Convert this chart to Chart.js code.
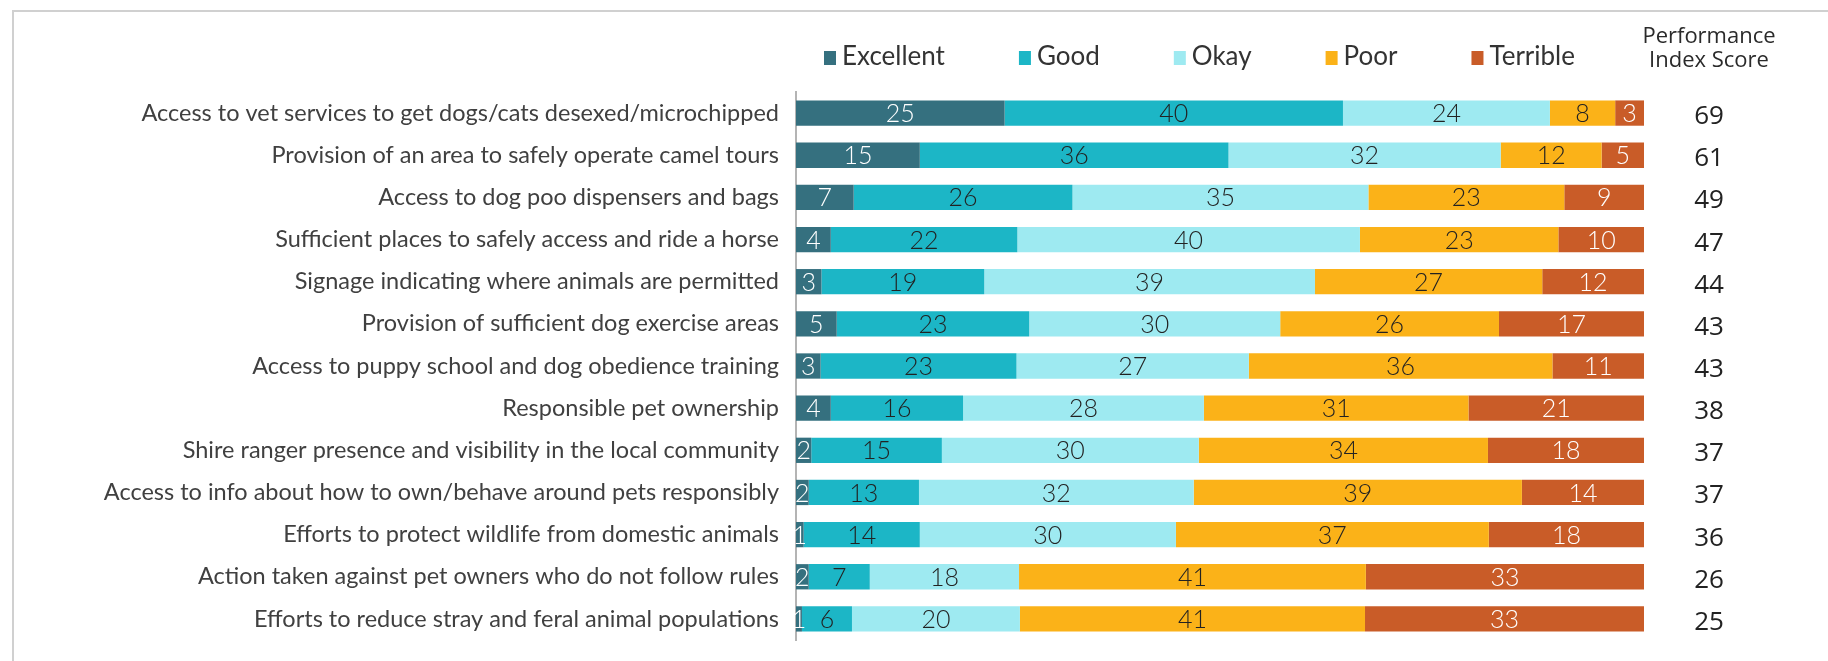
<!DOCTYPE html>
<html>
<head>
<meta charset="utf-8">
<script src="https://cdn.jsdelivr.net/npm/chart.js@4.4.1/dist/chart.umd.min.js"></script>
<style>
    html, body { margin: 0; padding: 0; background: #ffffff; }
    #wrap { position: relative; width: 1828px; height: 661px; }
</style>
</head>
<body>
<div id="wrap"><canvas id="perfChart" width="1828" height="661"></canvas></div>
<script>
// values (bars are shares in %, labels are rounded)
const categories = [
    'Access to vet services to get dogs/cats desexed/microchipped',
    'Provision of an area to safely operate camel tours',
    'Access to dog poo dispensers and bags',
    'Sufficient places to safely access and ride a horse',
    'Signage indicating where animals are permitted',
    'Provision of sufficient dog exercise areas',
    'Access to puppy school and dog obedience training',
    'Responsible pet ownership',
    'Shire ranger presence and visibility in the local community',
    'Access to info about how to own/behave around pets responsibly',
    'Efforts to protect wildlife from domestic animals',
    'Action taken against pet owners who do not follow rules',
    'Efforts to reduce stray and feral animal populations'
];

const excellent = [24.6, 14.6, 6.8, 4.1, 3.0, 4.8, 2.9, 4.1, 1.8, 1.5, 0.9, 1.5, 0.7];
const good      = [39.9, 36.4, 25.8, 22.0, 19.2, 22.7, 23.1, 15.6, 15.4, 13.0, 13.7, 7.2, 5.9];
const okay      = [24.4, 32.1, 34.9, 40.4, 39.0, 29.6, 27.4, 28.4, 30.3, 32.4, 30.2, 17.6, 19.8];
const poor      = [7.7, 11.9, 23.1, 23.4, 26.8, 25.8, 35.8, 31.2, 34.1, 38.7, 36.9, 40.9, 40.7];
const terrible  = [3.4, 5.0, 9.4, 10.1, 12.0, 17.1, 10.8, 20.7, 18.4, 14.4, 18.3, 32.8, 32.9];

const performanceScores = [69, 61, 49, 47, 44, 43, 43, 38, 37, 37, 36, 26, 25];

const seriesNames = ['Excellent', 'Good', 'Okay', 'Poor', 'Terrible'];
const seriesColors = ['#35707f', '#1cb6c6', '#9eeaf1', '#fbb218', '#c95c28'];
const labelColors = ['#ffffff', '#222222', '#222222', '#222222', '#ffffff'];

const FONT = 'Lato, "Noto Sans", sans-serif';
const SCORE_FONT = '"Open Sans", "Noto Sans", sans-serif';

// frame line at top and left
const framePlugin = {
    id: 'frame',
    beforeDraw(chart) {
        const ctx = chart.ctx;
        ctx.save();
        ctx.strokeStyle = '#d0d0d0';
        ctx.lineWidth = 2;
        ctx.beginPath();
        ctx.moveTo(13, chart.height);
        ctx.lineTo(13, 11);
        ctx.lineTo(chart.width, 11);
        ctx.stroke();
        ctx.restore();
    }
};

// numbers inside the bar segments
const segmentLabels = {
    id: 'segmentLabels',
    afterDatasetsDraw(chart) {
        const ctx = chart.ctx;
        ctx.save();
        ctx.font = '300 25px ' + FONT;
        ctx.textAlign = 'center';
        ctx.textBaseline = 'middle';
        chart.data.datasets.forEach((ds, i) => {
            const meta = chart.getDatasetMeta(i);
            meta.data.forEach((bar, j) => {
                const v = Math.round(ds.data[j]);
                ctx.fillStyle = labelColors[i];
                ctx.fillText(String(v), (bar.x + bar.base) / 2, bar.y + 1);
            });
        });
        ctx.restore();
    }
};

// legend row and the score column on the right
const sideTexts = {
    id: 'sideTexts',
    afterDraw(chart) {
        const ctx = chart.ctx;
        const area = chart.chartArea;
        const yScale = chart.scales.y;
        ctx.save();

        // legend
        ctx.font = '26px ' + FONT;
        ctx.textBaseline = 'alphabetic';
        ctx.textAlign = 'left';
        let x = area.left + 28;
        const legendBase = 65;
        chart.data.datasets.forEach((ds) => {
            ctx.fillStyle = ds.backgroundColor;
            ctx.fillRect(x, legendBase - 14, 12, 14);
            ctx.fillStyle = '#333333';
            ctx.fillText(ds.label, x + 18, legendBase);
            x += 18 + ctx.measureText(ds.label).width + 74;
        });

        // score header
        const colX = area.right + 65;
        ctx.textAlign = 'center';
        ctx.fillStyle = '#2a2a2a';
        ctx.font = '500 22px ' + SCORE_FONT;
        ctx.fillText('Performance', colX, 43);
        ctx.fillText('Index Score', colX, 67);

        // scores
        ctx.fillStyle = '#222222';
        ctx.font = '500 26px ' + SCORE_FONT;
        performanceScores.forEach((s, i) => {
            ctx.fillText(String(s), colX, yScale.getPixelForValue(i) + 11);
        });
        ctx.restore();
    }
};

const datasets = [excellent, good, okay, poor, terrible].map((values, i) => ({
    label: seriesNames[i],
    data: values,
    backgroundColor: seriesColors[i],
    borderWidth: 0,
    barPercentage: 0.6,
    categoryPercentage: 1
}));

new Chart(document.getElementById('perfChart'), {
    type: 'bar',
    data: {
        labels: categories,
        datasets: datasets
    },
    options: {
        indexAxis: 'y',
        responsive: false,
        animation: false,
        layout: {
            padding: { left: 0, right: 184, top: 92, bottom: 21 }
        },
        scales: {
            x: {
                stacked: true,
                min: 0,
                max: 100,
                display: false
            },
            y: {
                stacked: true,
                grid: { display: false, drawTicks: false },
                border: { display: true, color: '#b4b4b4', width: 2 },
                ticks: {
                    color: '#404040',
                    padding: 17,
                    font: { family: FONT, size: 23.5 }
                },
                afterFit(scale) {
                    scale.width = 796;
                    scale.paddingTop = 0;
                    scale.paddingBottom = 0;
                }
            }
        },
        plugins: {
            legend: { display: false },
            tooltip: { enabled: false }
        }
    },
    plugins: [framePlugin, segmentLabels, sideTexts]
});
</script>
</body>
</html>
